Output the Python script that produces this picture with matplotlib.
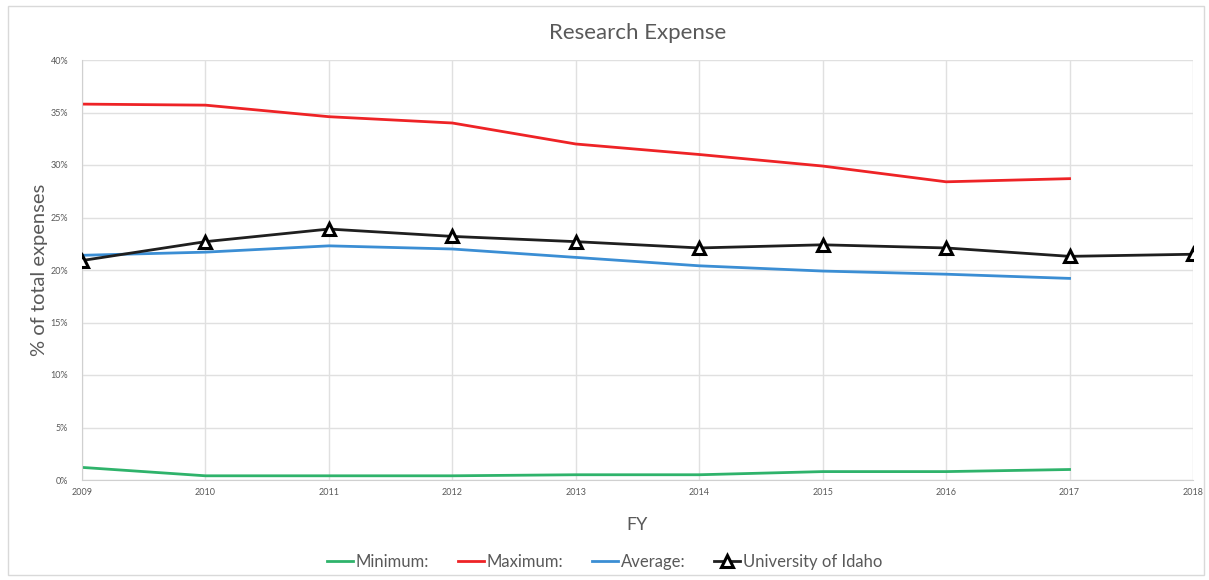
import matplotlib.pyplot as plt
from matplotlib.patches import Rectangle
from matplotlib.ticker import FuncFormatter

plt.rcParams['font.family'] = ['Lato', 'DejaVu Sans']

years = [2009, 2010, 2011, 2012, 2013, 2014, 2015, 2016, 2017, 2018]
minimum = [1.2, 0.4, 0.4, 0.4, 0.5, 0.5, 0.8, 0.8, 1.0]
maximum = [35.8, 35.7, 34.6, 34.0, 32.0, 31.0, 29.9, 28.4, 28.7]
average = [21.4, 21.7, 22.3, 22.0, 21.2, 20.4, 19.9, 19.6, 19.2]
idaho = [20.9, 22.7, 23.9, 23.2, 22.7, 22.1, 22.4, 22.1, 21.3, 21.5]

fig = plt.figure(figsize=(12.09, 5.8), dpi=100)
ax = fig.add_axes([82 / 1209, 1 - 480 / 580, (1193 - 82) / 1209, 420 / 580])

# light frame around the whole chart
fig.patches.append(Rectangle((8 / 1209, 5 / 580), 1196 / 1209, 569 / 580,
                             transform=fig.transFigure, fill=False,
                             edgecolor='#d9d9d9', linewidth=1))

ax.plot(years[:9], minimum, color='#2fb36b', lw=2, label='Minimum:')
ax.plot(years[:9], maximum, color='#ee2326', lw=2, label='Maximum:')
ax.plot(years[:9], average, color='#3b8ed4', lw=2, label='Average:')
ax.plot(years, idaho, color='#1f1f1f', lw=2, marker='^', markersize=9,
        markerfacecolor='white', markeredgecolor='black', markeredgewidth=2.2,
        label='University of Idaho', zorder=5)

ax.set_xlim(2009, 2018)
ax.set_ylim(0, 40)
ax.set_xticks(years)
ax.set_yticks(range(0, 41, 5))
ax.yaxis.set_major_formatter(FuncFormatter(lambda v, _: f'{v:.0f}%'))
ax.tick_params(length=0, labelsize=6.5, labelcolor='#595959')
ax.tick_params(axis='x', pad=6)
ax.tick_params(axis='y', pad=10)
ax.grid(True, color='#e0e0e0', lw=1)
ax.set_axisbelow(True)
for side in ['top', 'right']:
    ax.spines[side].set_visible(False)
for side in ['left', 'bottom']:
    ax.spines[side].set_color('#d0d0d0')

ax.set_title('Research Expense', fontsize=16, color='#595959', pad=15)
ax.set_xlabel('FY', fontsize=13, color='#595959', labelpad=14)
ax.set_ylabel('% of total expenses', fontsize=14.5, color='#595959', labelpad=2)

fig.legend(loc='center', bbox_to_anchor=(0.5, 1 - 562 / 580), ncol=4,
           frameon=False, fontsize=12, labelcolor='#595959',
           handlelength=1.6, handletextpad=0.15, columnspacing=1.7)

fig.savefig('out.png', dpi=100)
